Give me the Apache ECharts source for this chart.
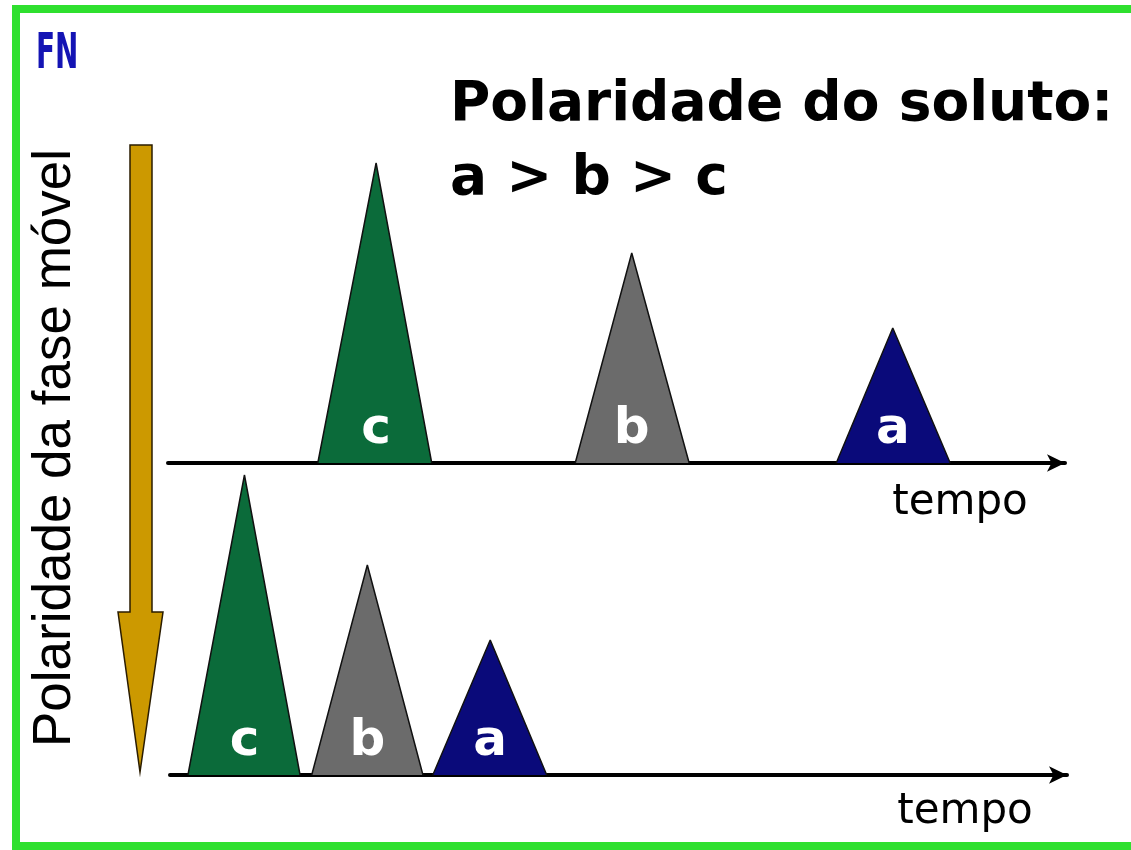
<!DOCTYPE html>
<html>
<head>
<meta charset="utf-8">
<script src="https://cdn.jsdelivr.net/npm/echarts@6/dist/echarts.min.js"></script>
<style>html,body{margin:0;padding:0;background:#fff;}#chart{width:1131px;height:850px;}</style>
</head>
<body>
<div id="chart"></div>
<script>
// Solutes (letter labels)
const solutes = ['c', 'b', 'a'];
const peakColors = ['#0b6b3a', '#6b6b6b', '#0a0a7a'];
// Relative peak heights (same in both chromatograms)
const peakHeights = [100, 70, 45];
// Upper chromatogram: [start, apex, end] on the tempo axis
const topPeaks = [[16.7, 23.2, 29.4], [45.4, 51.7, 58.1], [74.5, 80.8, 87.2]];
// Lower chromatogram (more polar mobile phase): [start, apex, end]
const bottomPeaks = [[2.0, 8.3, 14.5], [15.8, 22.0, 28.2], [29.3, 35.7, 42.0]];
const labelHeight = 11;
const titleText = 'Polaridade do soluto:\na > b > c';
const yAxisText = 'Polaridade da fase móvel';
const xAxisText = 'tempo';
const cornerText = 'FN';

const chart = echarts.init(document.getElementById('chart'), null, {renderer: 'canvas'});

function peakSeries(peaks, gridIdx) {
  const out = [];
  peaks.forEach((p, i) => {
    out.push({
      type: 'line', xAxisIndex: gridIdx, yAxisIndex: gridIdx,
      data: [[p[0], 0], [p[1], peakHeights[i]], [p[2], 0]],
      symbol: 'none', silent: true, z: 3,
      lineStyle: {color: '#111', width: 1.5},
      areaStyle: {color: peakColors[i], opacity: 1}
    });
  });
  out.push({
    type: 'scatter', xAxisIndex: gridIdx, yAxisIndex: gridIdx, symbolSize: 0, z: 5, silent: true,
    itemStyle: {opacity: 1},
    data: peaks.map((p, i) => ({value: [p[1], labelHeight], name: solutes[i]})),
    label: {show: true, position: 'inside', formatter: d => d.name, color: '#ffffff', opacity: 1,
      fontSize: 50, fontWeight: 'bold', fontFamily: 'DejaVu Sans'}
  });
  return out;
}

const xAxisBase = {
  type: 'value', min: 0, max: 100,
  axisLine: {show: true, onZero: false, lineStyle: {color: '#000', width: 4}, symbol: ['none', 'arrow'], symbolSize: [13, 18]},
  axisTick: {show: false}, axisLabel: {show: false}, splitLine: {show: false}
};
const yAxisBase = {
  type: 'value', min: 0, max: 100,
  axisLine: {show: false}, axisTick: {show: false}, axisLabel: {show: false}, splitLine: {show: false}
};

const option = {
  backgroundColor: '#fff',
  animation: false,
  title: {
    text: titleText, left: 445, top: 64,
    textStyle: {fontFamily: 'DejaVu Sans', fontSize: 55, fontWeight: 'bold', color: '#000', lineHeight: 74}
  },
  grid: [
    {left: 168, top: 163, width: 897, height: 300},
    {left: 170, top: 475, width: 897, height: 300}
  ],
  xAxis: [Object.assign({gridIndex: 0}, xAxisBase), Object.assign({gridIndex: 1}, xAxisBase)],
  yAxis: [Object.assign({gridIndex: 0}, yAxisBase), Object.assign({gridIndex: 1}, yAxisBase)],
  graphic: [
    {type: 'rect', shape: {x: 16, y: 9, width: 1130, height: 837}, style: {fill: 'none', stroke: '#2fe02f', lineWidth: 8}, z: 0},
    {type: 'text', x: 36, y: 30, scaleX: 0.62, style: {text: cornerText, fill: '#1414b4', font: 'bold 50px "DejaVu Sans Condensed", "DejaVu Sans", sans-serif'}},
    {type: 'polygon', shape: {points: [[130, 145], [152, 145], [152, 612], [163, 612], [140, 772], [118, 612], [130, 612]]},
      style: {fill: '#cc9900', stroke: '#2a1c00', lineWidth: 1.5}, z: 2},
    {type: 'text', x: 55, y: 448, rotation: Math.PI / 2,
      style: {text: yAxisText, fill: '#000', font: '53px "Liberation Sans", Arial, sans-serif', textAlign: 'center', textVerticalAlign: 'middle'}},
    {type: 'text', x: 960, y: 503, style: {text: xAxisText, fill: '#000', font: '42px "DejaVu Sans", sans-serif', textAlign: 'center', textVerticalAlign: 'middle'}},
    {type: 'text', x: 965, y: 812, style: {text: xAxisText, fill: '#000', font: '42px "DejaVu Sans", sans-serif', textAlign: 'center', textVerticalAlign: 'middle'}}
  ],
  series: [].concat(peakSeries(topPeaks, 0), peakSeries(bottomPeaks, 1))
};
chart.setOption(option);
</script>
</body>
</html>
